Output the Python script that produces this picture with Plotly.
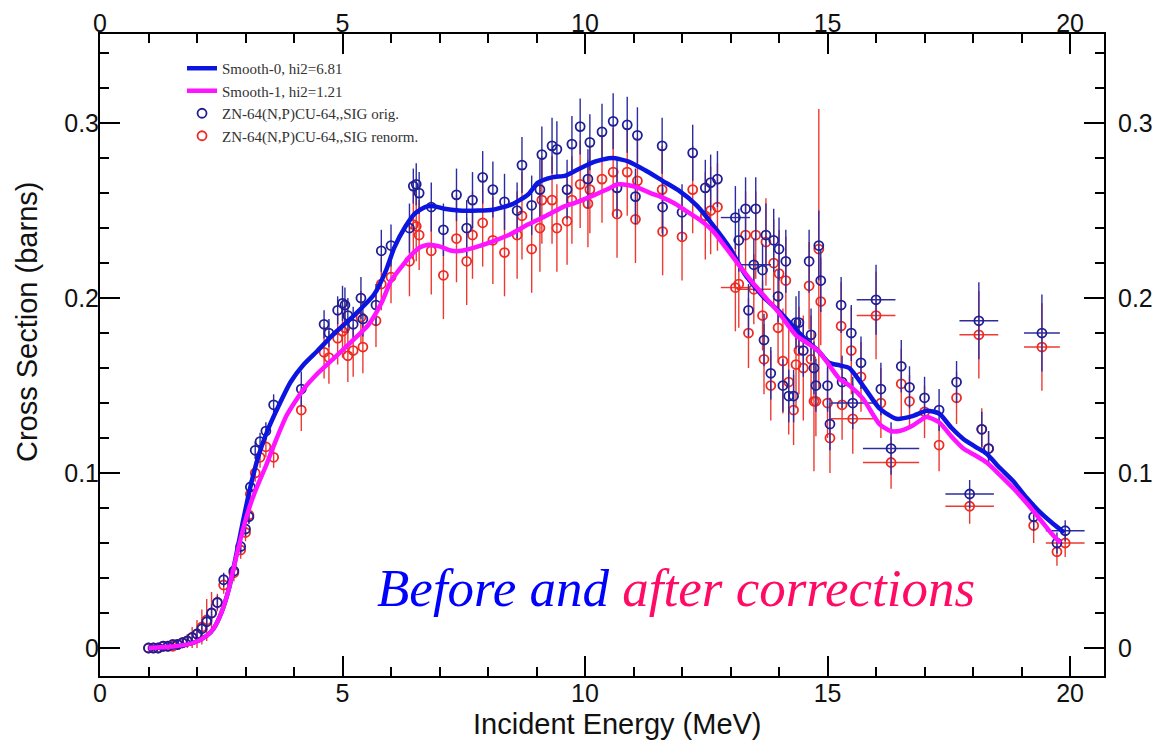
import plotly.graph_objects as go

# ---------------- data ----------------
energy = [1.00,1.10,1.20,1.30,1.40,1.50,1.60,1.70,1.80,1.90,
          2.00,2.10,2.20,2.30,2.42,2.55,2.76,2.90,3.00,3.07,
          3.10,3.20,3.30,3.42,3.58,4.15,4.62,4.72,4.90,5.00,
          5.05,5.11,5.22,5.38,5.42,5.69,5.80,6.00,6.38,6.46,
          6.52,6.58,6.83,7.08,7.35,7.56,7.68,7.89,8.10,8.34,
          8.60,8.70,8.90,9.07,9.11,9.32,9.42,9.63,9.73,9.90,
          10.06,10.10,10.35,10.58,10.66,10.87,11.04,11.08,11.59,11.60,
          12.00,12.22,12.48,12.59,12.73,13.10,13.17,13.31,13.37,13.48,
          13.52,13.66,13.69,13.73,13.83,13.89,13.98,14.00,14.08,14.14,
          14.20,14.30,14.35,14.41,14.50,14.62,14.66,14.72,14.76,14.82,
          14.86,15.00,15.05,15.28,15.30,15.49,15.52,15.69,16.00,16.10,
          16.31,16.52,16.69,17.00,17.30,17.66,17.93,18.12,18.18,18.32,
          19.25,19.42,19.73,19.90]

sig_orig = [0.000,0.000,0.000,0.001,0.001,0.002,0.002,0.003,0.004,0.006,
            0.008,0.011,0.015,0.020,0.026,0.039,0.044,0.058,0.068,0.075,
            0.092,0.113,0.118,0.124,0.139,0.148,0.185,0.180,0.193,0.197,
            0.196,0.190,0.185,0.200,0.188,0.196,0.227,0.230,0.240,0.264,
            0.265,0.260,0.252,0.239,0.259,0.240,0.256,0.269,0.262,0.255,
            0.250,0.276,0.253,0.262,0.282,0.287,0.285,0.262,0.288,0.298,
            0.268,0.289,0.295,0.301,0.263,0.299,0.258,0.293,0.287,0.252,
            0.249,0.283,0.263,0.266,0.268,0.246,0.233,0.251,0.193,0.219,
            0.251,0.216,0.176,0.236,0.157,0.233,0.201,0.228,0.150,0.221,
            0.144,0.144,0.186,0.186,0.170,0.221,0.179,0.160,0.150,0.230,
            0.210,0.150,0.128,0.196,0.152,0.180,0.140,0.163,0.199,0.148,
            0.114,0.161,0.149,0.143,0.136,0.152,0.088,0.187,0.125,0.114,
            0.075,0.180,0.060,0.067]

sig_renorm = [0.000,0.000,0.000,0.001,0.001,0.001,0.002,0.003,0.004,0.006,
              0.008,0.012,0.016,0.020,0.026,0.036,0.043,0.056,0.066,0.076,
              0.088,0.100,0.109,0.115,0.109,0.136,0.169,0.166,0.177,0.181,
              0.183,0.167,0.170,0.189,0.172,0.187,0.208,0.212,0.221,0.242,
              0.241,0.236,0.227,0.213,0.234,0.221,0.236,0.243,0.233,0.226,
              0.236,0.247,0.228,0.240,0.256,0.256,0.240,0.244,0.256,0.265,
              0.254,0.262,0.268,0.272,0.248,0.272,0.245,0.267,0.262,0.238,
              0.235,0.262,0.247,0.250,0.252,0.206,0.208,0.236,0.180,0.205,
              0.236,0.190,0.165,0.232,0.150,0.220,0.183,0.214,0.164,0.210,
              0.152,0.136,0.162,0.170,0.160,0.207,0.165,0.141,0.141,0.228,
              0.198,0.140,0.120,0.184,0.139,0.170,0.131,0.155,0.190,0.140,
              0.106,0.151,0.141,0.135,0.116,0.143,0.081,0.179,0.125,0.114,
              0.070,0.172,0.055,0.060]

err_orig = [0.001,0.001,0.001,0.001,0.001,0.001,0.001,0.002,0.002,0.002,
            0.003,0.004,0.005,0.005,0.004,0.004,0.004,0.004,0.004,0.004,
            0.004,0.005,0.005,0.005,0.006,0.010,0.008,0.008,0.008,0.010,
            0.010,0.010,0.010,0.012,0.010,0.012,0.012,0.012,0.014,0.010,
            0.012,0.012,0.014,0.015,0.015,0.016,0.016,0.015,0.016,0.016,
            0.016,0.016,0.017,0.017,0.016,0.016,0.016,0.017,0.016,0.016,
            0.017,0.016,0.016,0.016,0.017,0.016,0.016,0.016,0.016,0.016,
            0.016,0.016,0.016,0.016,0.016,0.018,0.018,0.018,0.015,0.015,
            0.018,0.015,0.015,0.018,0.015,0.018,0.015,0.018,0.015,0.018,
            0.015,0.015,0.015,0.018,0.015,0.018,0.015,0.015,0.015,0.020,
            0.018,0.015,0.015,0.016,0.015,0.016,0.015,0.015,0.020,0.015,
            0.015,0.015,0.012,0.012,0.012,0.012,0.008,0.022,0.010,0.010,
            0.008,0.022,0.006,0.006]

err_renorm = [0.001,0.001,0.001,0.001,0.001,0.001,0.002,0.003,0.004,0.006,
              0.008,0.010,0.012,0.012,0.005,0.005,0.005,0.005,0.005,0.005,
              0.005,0.005,0.006,0.006,0.006,0.012,0.015,0.015,0.015,0.015,
              0.015,0.015,0.015,0.015,0.015,0.015,0.015,0.015,0.020,0.020,
              0.020,0.020,0.025,0.025,0.025,0.025,0.025,0.025,0.025,0.025,
              0.025,0.025,0.025,0.025,0.025,0.025,0.025,0.025,0.025,0.025,
              0.025,0.025,0.025,0.025,0.025,0.025,0.025,0.025,0.025,0.025,
              0.025,0.025,0.025,0.025,0.025,0.025,0.025,0.025,0.020,0.020,
              0.025,0.020,0.020,0.025,0.020,0.025,0.020,0.025,0.030,0.025,
              0.030,0.020,0.025,0.025,0.030,0.025,0.025,0.040,0.020,0.080,
              0.025,0.020,0.020,0.025,0.020,0.025,0.020,0.020,0.025,0.020,
              0.015,0.020,0.015,0.015,0.015,0.015,0.010,0.025,0.012,0.010,
              0.010,0.025,0.008,0.008]

energy_err = [0,0,0,0,0,0,0,0,0,0,
              0,0,0,0,0,0,0,0,0,0,
              0,0,0,0,0,0,0,0,0,0,
              0,0,0,0,0,0,0,0,0,0,
              0,0,0,0,0,0,0,0,0,0,
              0,0,0,0,0,0,0,0,0,0,
              0,0,0,0,0,0,0,0,0,0,
              0,0,0,0,0,0.30,0,0,0,0.35,
              0,0,0,0,0,0,0,0,0,0,
              0,0,0,0,0,0,0,0,0,0,
              0,0,0,0,0,0,0.45,0,0.40,0,
              0.58,0,0,0,0,0,0.50,0.40,0,0,
              0,0.37,0,0.40]

smooth0_x = [1.0,1.5,1.93,2.2,2.34,2.5,2.65,2.8,2.96,3.1,
             3.27,3.45,3.66,3.93,4.2,4.49,4.8,5.18,5.65,5.9,
             6.07,6.3,6.48,6.7,6.89,7.1,7.4,7.8,8.1,8.49,
             8.82,9.03,9.32,9.6,9.86,10.2,10.56,10.9,11.24,11.6,
             11.93,12.3,12.63,13.0,13.31,13.7,14.0,14.35,14.6,14.82,
             15.03,15.25,15.45,15.73,16.07,16.42,16.75,17.04,17.3,17.55,
             17.8,18.05,18.28,18.55,18.84,19.1,19.38,19.65,19.88]
smooth0_y = [0.0,0.0008,0.003,0.007,0.011,0.020,0.033,0.052,0.074,0.092,
             0.110,0.124,0.137,0.152,0.162,0.170,0.179,0.1885,0.202,0.216,
             0.229,0.241,0.248,0.252,0.2525,0.251,0.250,0.250,0.2505,0.2535,
             0.259,0.266,0.269,0.270,0.2736,0.278,0.280,0.278,0.273,0.267,
             0.2615,0.253,0.242,0.228,0.213,0.200,0.1925,0.182,0.175,0.1695,
             0.163,0.1615,0.160,0.150,0.137,0.131,0.1325,0.1356,0.134,0.126,
             0.1195,0.115,0.111,0.103,0.095,0.086,0.0776,0.071,0.066]

smooth1_x = [1.0,1.5,1.93,2.2,2.34,2.5,2.65,2.8,2.96,3.1,
             3.25,3.42,3.58,3.85,4.2,4.49,4.82,5.18,5.53,5.8,
             6.0,6.22,6.42,6.6,6.77,7.0,7.25,7.45,7.8,8.14,
             8.5,8.82,9.2,9.52,9.85,10.2,10.45,10.68,10.9,11.1,
             11.35,11.59,11.85,12.07,12.35,12.63,12.9,13.17,13.45,13.73,
             14.0,14.35,14.6,14.82,15.05,15.24,15.45,15.73,16.07,16.3,
             16.48,16.75,17.04,17.3,17.55,17.8,18.05,18.28,18.55,18.84,
             19.1,19.38,19.6,19.8]
smooth1_y = [0.0,0.0008,0.003,0.007,0.011,0.020,0.033,0.051,0.069,0.082,
             0.093,0.104,0.1155,0.133,0.148,0.157,0.1655,0.175,0.1845,0.197,
             0.2098,0.218,0.2247,0.229,0.2305,0.2295,0.227,0.227,0.2295,0.2328,
             0.237,0.242,0.247,0.2517,0.255,0.259,0.262,0.265,0.2645,0.263,
             0.260,0.2575,0.254,0.250,0.245,0.2385,0.229,0.219,0.209,0.200,
             0.1915,0.1787,0.174,0.1695,0.161,0.154,0.150,0.1425,0.128,0.124,
             0.124,0.127,0.132,0.129,0.121,0.114,0.110,0.106,0.099,0.091,
             0.083,0.0736,0.066,0.060]

n = len(energy)
assert all(len(a) == n for a in [sig_orig, sig_renorm, err_orig, err_renorm, energy_err])
assert len(smooth0_x) == len(smooth0_y) and len(smooth1_x) == len(smooth1_y)

x_ticks_major = [0, 5, 10, 15, 20]
y_ticks_major = [0, 0.1, 0.2, 0.3]
y_tick_text = ["0", "0.1", "0.2", "0.3"]

X_RANGE = [0, 20.70]
Y_RANGE = [-0.016, 0.3509]

# ---------------- figure ----------------
ORIG_C = "#1e1e96"
ORIG_ERR = "#2c2ca0"
REN_C = "#ee2a22"
REN_ERR = "#ec3a32"

fig = go.Figure()

fig.add_trace(go.Scatter(
    x=energy, y=sig_renorm, mode="markers", name="ZN-64(N,P)CU-64,,SIG renorm.",
    marker=dict(symbol="circle-open", size=9, color=REN_C, line=dict(width=1.8, color=REN_C)),
    error_y=dict(type="data", array=err_renorm, color=REN_ERR, thickness=1.4, width=0),
    error_x=dict(type="data", array=energy_err, color=REN_ERR, thickness=1.4, width=0),
    legendrank=4,
))
fig.add_trace(go.Scatter(
    x=energy, y=sig_orig, mode="markers", name="ZN-64(N,P)CU-64,,SIG orig.",
    marker=dict(symbol="circle-open", size=9, color=ORIG_C, line=dict(width=1.8, color=ORIG_C)),
    error_y=dict(type="data", array=err_orig, color=ORIG_ERR, thickness=1.4, width=0),
    error_x=dict(type="data", array=energy_err, color=ORIG_ERR, thickness=1.4, width=0),
    legendrank=3,
))
fig.add_trace(go.Scatter(
    x=smooth0_x, y=smooth0_y, mode="lines", name="Smooth-0, hi2=6.81",
    line=dict(color="#0c14e0", width=4.5, shape="spline", smoothing=0.6),
    legendrank=1,
))
fig.add_trace(go.Scatter(
    x=smooth1_x, y=smooth1_y, mode="lines", name="Smooth-1, hi2=1.21",
    line=dict(color="#ff14ff", width=4.5, shape="spline", smoothing=0.6),
    legendrank=2,
))
# invisible trace to anchor the mirrored top/right axes
fig.add_trace(go.Scatter(
    x=[X_RANGE[0]], y=[Y_RANGE[0]], xaxis="x2", yaxis="y2", mode="markers",
    marker=dict(opacity=0), showlegend=False, hoverinfo="skip",
))

TICK_FONT = dict(family="Liberation Sans, Arial, sans-serif", size=25, color="#111")
TITLE_FONT = dict(family="Liberation Sans, Arial, sans-serif", size=29, color="#111")

common_x = dict(
    range=X_RANGE, showgrid=False, zeroline=False, automargin=False,
    showline=True, linecolor="black", linewidth=2,
    tickmode="array", tickvals=x_ticks_major,
    ticks="inside", ticklen=20, tickwidth=2, tickcolor="black",
    minor=dict(dtick=1, tick0=0, ticks="inside", ticklen=9, tickwidth=2, tickcolor="black"),
    tickfont=TICK_FONT,
)
common_y = dict(
    range=Y_RANGE, showgrid=False, zeroline=False, automargin=False,
    showline=True, linecolor="black", linewidth=2,
    tickmode="array", tickvals=y_ticks_major, ticktext=y_tick_text,
    ticks="inside", ticklen=20, tickwidth=2, tickcolor="black",
    minor=dict(dtick=0.02, tick0=0, ticks="inside", ticklen=9, tickwidth=2, tickcolor="black"),
    tickfont=TICK_FONT,
)

# the page body adds an 8px offset, so margins are shifted accordingly
fig.update_layout(
    width=1162, height=742,
    margin=dict(l=92, r=66, t=26, b=74),
    paper_bgcolor="white", plot_bgcolor="white",
    showlegend=True,
    legend=dict(
        x=0.0817, y=0.972, xanchor="left", yanchor="top",
        font=dict(family="Liberation Serif, Times New Roman, serif", size=15, color="#333"),
        bgcolor="rgba(0,0,0,0)", borderwidth=0, tracegroupgap=0,
        traceorder="normal",
    ),
    xaxis=dict(common_x, ticklabelstandoff=-6),
    xaxis2=dict(common_x, overlaying="x", side="top", anchor="y", ticklabelstandoff=-10),
    yaxis=dict(common_y, ticklabelstandoff=-6),
    yaxis2=dict(common_y, overlaying="y", side="right", anchor="x", ticklabelstandoff=7),
    annotations=[
        dict(
            xref="paper", yref="paper", x=0.5737, y=0.137, xanchor="center", yanchor="middle",
            showarrow=False,
            text='<i><span style="color:#0000ff">Before and</span> <span style="color:#ff0a64">after corrections</span></i>',
            font=dict(family="Liberation Serif, Times New Roman, serif", size=53),
        ),
        dict(
            xref="paper", yref="paper", x=0.515, y=-0.0748, xanchor="center", yanchor="middle",
            showarrow=False, text="Incident Energy (MeV)", font=TITLE_FONT,
        ),
        dict(
            xref="paper", yref="paper", x=-0.0727, y=0.5514, xanchor="center", yanchor="middle",
            showarrow=False, text="Cross Section (barns)", textangle=-90, font=TITLE_FONT,
        ),
    ],
)

fig.write_html("out.html")
